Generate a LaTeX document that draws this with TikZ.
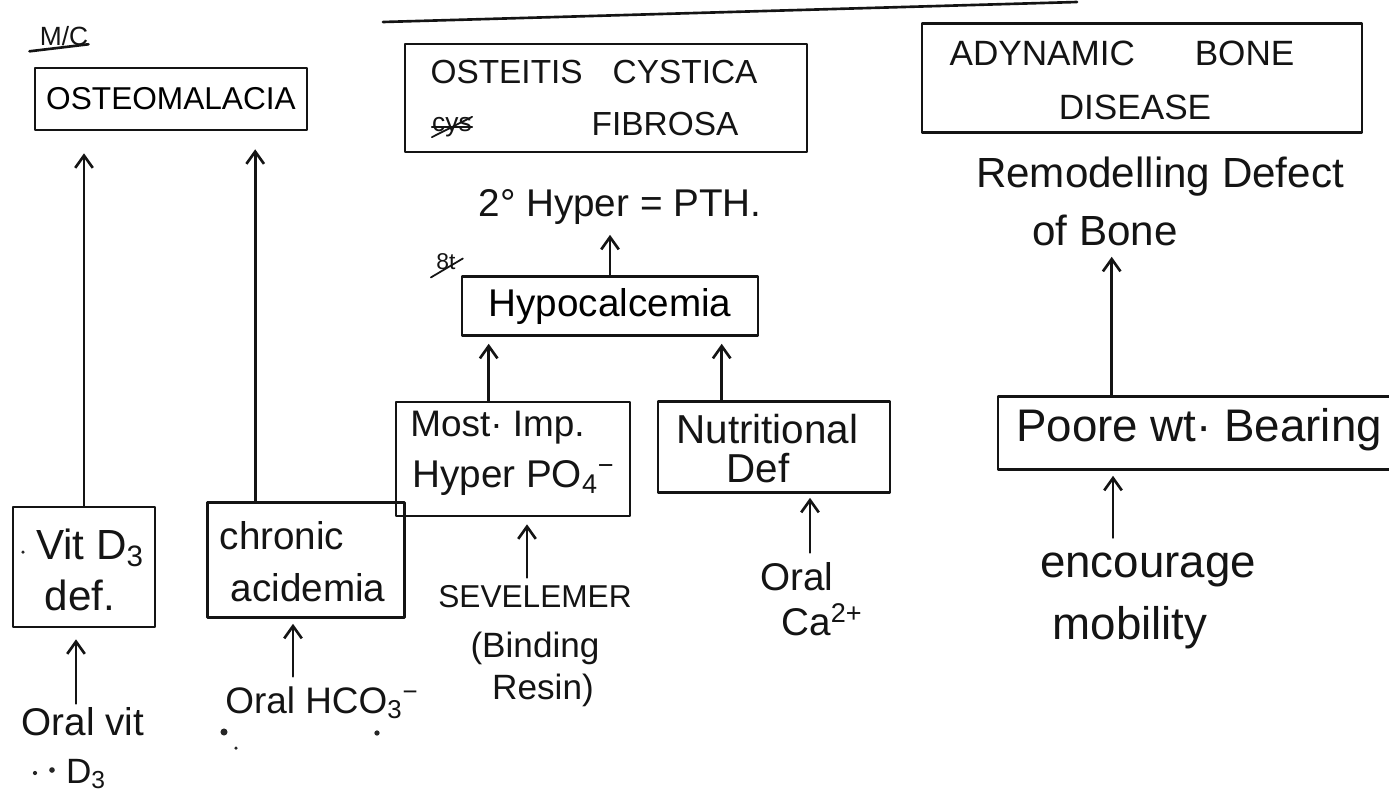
\documentclass[tikz,border=0pt]{standalone}
\usepackage{fontspec}
\setmainfont{Liberation Sans}
\usetikzlibrary{arrows.meta}
\newcommand{\fs}[1]{\fontsize{#1}{#1}\selectfont}
\begin{document}
\begin{tikzpicture}[x=0.02cm,y=-0.02cm,
  line cap=round, line join=round,
  ink/.style={draw=black!92, line width=1.5pt},
  box/.style={ink, rectangle, inner sep=0pt, align=center},
  hand/.style={inner sep=0pt, align=center, text=black!92},
  arr/.style={ink, -{Straight Barb[length=7pt,width=10pt,line width=1.5pt]}},
  dot/.style={fill=black!85}]
\clip (0,0) rectangle (1389,798);
\fill[white] (0,0) rectangle (1389,798);

% ---- rule across the top
\coordinate (tl1) at (383,22);
\coordinate (tl2) at (1077,2);
\draw[ink] (tl1) -- (tl2);

% ---- osteomalacia column
\node[hand, font=\fs{15}] (mc) at (64,36) {M/C};
\draw[ink] ([xshift=-0.2cm,yshift=-3pt]mc.south west) -- ([yshift=1pt]mc.south east);
\node[box, minimum width=5.44cm, minimum height=1.24cm, font=\fs{18}] (osteo) at (171,99) {OSTEOMALACIA};

\node[box, minimum width=2.84cm, minimum height=2.4cm] (vit) at (84,567) {};
\node[hand, font=\fs{24}] (vitA) at (90,548) {Vit D\textsubscript{3}};
\node[hand, font=\fs{24}] (vitB) at (80,595) {def.};
\fill[dot] (23,552) circle (1pt);

\node[box, minimum width=3.94cm, minimum height=2.3cm] (chron) at (306,560) {};
\node[hand, font=\fs{22}] (chA) at (282,536) {chronic};
\node[hand, font=\fs{22}] (chB) at (308,588) {acidemia};

\node[hand, font=\fs{22}] (ovit) at (83,722) {Oral vit};
\node[hand, font=\fs{20}] (ovitD) at (86,774) {D\textsubscript{3}};
\fill[dot] (35,773) circle (1.2pt);
\fill[dot] (52,770) circle (1.6pt);

\node[hand, font=\fs{21}] (hco) at (322,703) {Oral HCO\textsubscript{3}\textsuperscript{−}};
\fill[dot] (224,732) circle (2pt);
\fill[dot] (236,748) circle (1pt);
\fill[dot] (377,733) circle (1.5pt);

% ---- osteitis column
\node[box, minimum width=8.04cm, minimum height=2.16cm] (osteitis) at (606,98) {};
\node[hand, font=\fs{19}] (ocA) at (594,72) {OSTEITIS\hspace{0.9em}CYSTICA};
\node[hand, font=\fs{19}] (ocB) at (665,124) {FIBROSA};
\node[hand, font=\fs{15}] (cys) at (452,127) {cys};
\draw[ink, line width=1pt] (cys.south west) -- (cys.north east);
\draw[ink, line width=1pt] (cys.west) -- (cys.east);

\node[hand, font=\fs{22}] (pth) at (620,207) {2° Hyper = PTH.};

\node[box, minimum width=5.92cm, minimum height=1.18cm, font=\fs{22}] (hypo) at (610,306) {Hypocalcemia};
\node[hand, font=\fs{13}] (mk) at (446,262) {8t};
\draw[ink, line width=1pt] ([xshift=-3pt,yshift=-4pt]mk.south west) -- ([xshift=4pt,yshift=2pt]mk.east);

\node[box, minimum width=4.68cm, minimum height=2.28cm] (most) at (513,459) {};
\node[hand, font=\fs{21}, anchor=west] (mostA) at (410,428) {Most· Imp.};
\node[hand, font=\fs{22}, anchor=west] (mostB) at (412,478) {Hyper PO\textsubscript{4}\textsuperscript{−}};

\node[box, minimum width=4.64cm, minimum height=1.82cm] (nutr) at (774,447) {};
\node[hand, font=\fs{23}, anchor=west] (nutA) at (676,429) {Nutritional};
\node[hand, font=\fs{23}, anchor=west] (nutB) at (726,468) {Def};

\node[hand, font=\fs{18}] (sev) at (535,597) {SEVELEMER};
\node[hand, font=\fs{20}] (sevB) at (535,648) {(Binding};
\node[hand, font=\fs{20}] (sevC) at (543,690) {Resin)};

\node[hand, font=\fs{22}] (oca) at (797,577) {Oral};
\node[hand, font=\fs{22}] (ocaB) at (822,620) {Ca\textsuperscript{2+}};

% ---- adynamic column
\node[box, minimum width=8.8cm, minimum height=2.18cm] (adyn) at (1142,78) {};
\node[hand, font=\fs{20}] (adA) at (1122,53) {ADYNAMIC\hspace{1.7em}BONE};
\node[hand, font=\fs{20}] (adB) at (1135,107) {DISEASE};

\node[hand, font=\fs{24}] (remod) at (1160,177) {Remodelling Defect};
\node[hand, font=\fs{24}] (bone) at (1105,230) {of Bone};

\node[box, minimum width=8.04cm, minimum height=1.46cm] (poore) at (1199,433) {};
\node[hand, font=\fs{26}, anchor=west] (pooreT) at (1016,430) {Poore wt· Bearing};

\node[hand, font=\fs{26}] (enc) at (1148,570) {encourage};
\node[hand, font=\fs{26}] (mob) at (1130,628) {mobility};

% ---- connectors
\coordinate (vtop) at (vit.north);
\draw[arr, shorten >=0.44cm] (vtop) -- (vtop |- osteo.south);
\coordinate (ctop) at ([xshift=0.98cm]chron.north west);
\draw[arr, shorten >=0.36cm] (ctop) -- (ctop |- osteo.south);

\coordinate (mtop) at ([xshift=1.88cm]most.north west);
\draw[arr, shorten >=0.14cm] (mtop) -- (mtop |- hypo.south);
\coordinate (ntop) at ([xshift=1.3cm]nutr.north west);
\draw[arr, shorten >=0.14cm] (ntop) -- (ntop |- hypo.south);
\draw[arr, shorten >=0.2cm] (hypo.north) -- (hypo.north |- pth.south);

\coordinate (ptop) at ([xshift=2.3cm]poore.north west);
\draw[arr, shorten >=0.22cm] (ptop) -- (ptop |- bone.south);

\coordinate (ovb) at ([xshift=-0.14cm]ovit.north);
\draw[arr, shorten <=0.08cm, shorten >=0.22cm] (ovb) -- (ovb |- vit.south);
\coordinate (hcb) at ([xshift=-0.58cm]hco.north);
\draw[arr, shorten <=0.2cm, shorten >=0.1cm] (hcb) -- (hcb |- chron.south);
\coordinate (svb) at ([xshift=-0.16cm]sev.north);
\draw[arr, shorten <=0.16cm, shorten >=0.14cm] (svb) -- (svb |- most.south);
\coordinate (cab) at ([xshift=0.26cm]oca.north);
\draw[arr, shorten <=0.2cm, shorten >=0.08cm] (cab) -- (cab |- nutr.south);
\coordinate (enb) at ([xshift=-0.7cm]enc.north);
\draw[arr, shorten <=0.3cm, shorten >=0.1cm] (enb) -- (enb |- poore.south);
\end{tikzpicture}
\end{document}
